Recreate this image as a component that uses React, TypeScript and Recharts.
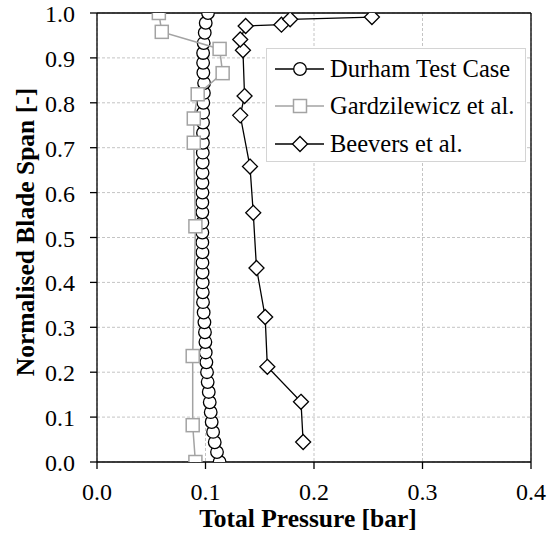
import React from 'react';
import {
  ScatterChart,
  Scatter,
  XAxis,
  YAxis,
  CartesianGrid,
  ReferenceLine,
  Legend,
} from 'recharts';

const durhamY = [
  0, 0.022, 0.044, 0.067, 0.089, 0.111, 0.133, 0.156, 0.178, 0.2, 0.222, 0.244,
  0.267, 0.289, 0.311, 0.333, 0.356, 0.378, 0.4, 0.422, 0.444, 0.467, 0.489,
  0.511, 0.533, 0.556, 0.578, 0.6, 0.622, 0.644, 0.667, 0.689, 0.711, 0.733,
  0.756, 0.778, 0.8, 0.822, 0.844, 0.867, 0.889, 0.911, 0.933, 0.956, 0.978, 1.0,
];
const durhamX = [
  0.113, 0.1106, 0.1085, 0.107, 0.1057, 0.1048, 0.1039, 0.103, 0.102, 0.1014,
  0.1008, 0.1002, 0.0999, 0.0995, 0.099, 0.0983, 0.0977, 0.0975, 0.0974, 0.0973,
  0.0972, 0.0972, 0.0971, 0.0971, 0.0971, 0.0971, 0.0971, 0.0972, 0.0972, 0.0973,
  0.0974, 0.0975, 0.0976, 0.0977, 0.0977, 0.0978, 0.098, 0.0985, 0.0987, 0.098,
  0.0978, 0.0978, 0.0983, 0.0993, 0.1002, 0.1023,
];

const gardY = [0, 0.082, 0.236, 0.525, 0.711, 0.765, 0.819, 0.866, 0.92, 0.958, 1.0];
const gardX = [0.0907, 0.0882, 0.0882, 0.0907, 0.0892, 0.0892, 0.0928, 0.1158, 0.113, 0.0597, 0.057];

const beevY = [0.0445, 0.134, 0.212, 0.323, 0.432, 0.555, 0.658, 0.772, 0.815, 0.917, 0.941, 0.971, 0.974, 0.986, 0.991];
const beevX = [0.19, 0.188, 0.157, 0.155, 0.147, 0.144, 0.141, 0.132, 0.136, 0.1345, 0.132, 0.137, 0.17, 0.178, 0.2534];

const xTicks = [0, 0.1, 0.2, 0.3, 0.4];
const yTicks = [0, 0.1, 0.2, 0.3, 0.4, 0.5, 0.6, 0.7, 0.8, 0.9, 1.0];

const seriesNames = ['Durham Test Case', 'Gardzilewicz et al.', 'Beevers et al.'];

const toPoints = (xs: number[], ys: number[]) => xs.map((x, i) => ({ x, y: ys[i] }));
const durhamData = toPoints(durhamX, durhamY);
const gardData = toPoints(gardX, gardY);
const beevData = toPoints(beevX, beevY);

const GRAY = '#a3a3a3';
const FONT = 'Liberation Serif';

const CircleMark = (p: any) => (
  <circle cx={p.cx} cy={p.cy} r={6.3} fill="#fff" stroke="#000" strokeWidth={1.3} />
);
const SquareMark = (p: any) => (
  <rect x={p.cx - 6.5} y={p.cy - 6.5} width={13} height={13} fill="#fff" stroke={GRAY} strokeWidth={1.5} />
);
const DiamondMark = (p: any) => (
  <path
    d={`M${p.cx},${p.cy - 7.5}L${p.cx + 7.5},${p.cy}L${p.cx},${p.cy + 7.5}L${p.cx - 7.5},${p.cy}Z`}
    fill="#fff"
    stroke="#000"
    strokeWidth={1.3}
  />
);

const legendItems = [
  { name: seriesNames[0], color: '#000', Mark: CircleMark },
  { name: seriesNames[1], color: GRAY, Mark: SquareMark },
  { name: seriesNames[2], color: '#000', Mark: DiamondMark },
];

const LegendBox = () => (
  <div
    style={{
      width: 258,
      height: 111,
      border: '1px solid #d4d4d4',
      background: '#fff',
      fontFamily: FONT,
      fontSize: 24.5,
      color: '#000',
      boxSizing: 'content-box',
      paddingTop: 1,
    }}
  >
    {legendItems.map((it) => (
      <div key={it.name} style={{ display: 'flex', alignItems: 'center', height: 37.5, whiteSpace: 'nowrap' }}>
        <svg width={62} height={20} style={{ flex: 'none' }}>
          <line x1={8} y1={10} x2={57} y2={10} stroke={it.color} strokeWidth={1.5} />
          <it.Mark cx={33} cy={10} />
        </svg>
        <span style={{ marginLeft: 1 }}>{it.name}</span>
      </div>
    ))}
  </div>
);

const XTick = (p: any) => (
  <text x={p.x} y={p.y} dy={17} textAnchor="middle" fontFamily={FONT} fontSize={24} fill="#000">
    {Number(p.payload.value).toFixed(1)}
  </text>
);

const YTick = (p: any) => (
  <text x={p.x} y={p.y} dy={9} textAnchor="end" fontFamily={FONT} fontSize={24} fill="#000">
    {Number(p.payload.value).toFixed(1)}
  </text>
);

const YTitle = () => (
  <text
    x={34}
    y={232}
    transform="rotate(-90, 34, 232)"
    textAnchor="middle"
    fontFamily={FONT}
    fontWeight="bold"
    fontSize={25.5}
    fill="#000"
  >
    Normalised Blade Span [-]
  </text>
);

const XTitle = () => (
  <text x={308} y={527} textAnchor="middle" fontFamily={FONT} fontWeight="bold" fontSize={25.5} fill="#000">
    Total Pressure [bar]
  </text>
);

export default function App() {
  return (
    <div style={{ position: 'absolute', left: 0, top: 0, background: '#fff', fontFamily: FONT }}>
      <ScatterChart width={548} height={540} margin={{ top: 13, right: 17, left: 0, bottom: 0 }}>
        <CartesianGrid stroke="#c4c4c4" strokeDasharray="3 2" strokeWidth={1} />
        <XAxis
          type="number"
          dataKey="x"
          domain={[0, 0.4]}
          ticks={xTicks}
          height={78}
          tickSize={7}
          tickMargin={14}
          axisLine={{ stroke: '#000', strokeWidth: 1.3 }}
          tickLine={{ stroke: '#000', strokeWidth: 1.3 }}
          tick={<XTick />}
          allowDataOverflow
          label={{ content: () => <XTitle /> }}
        />
        <YAxis
          type="number"
          dataKey="y"
          domain={[0, 1]}
          ticks={yTicks}
          width={97}
          tickSize={7}
          tickMargin={15}
          axisLine={{ stroke: '#000', strokeWidth: 1.3 }}
          tickLine={{ stroke: '#000', strokeWidth: 1.3 }}
          tick={<YTick />}
          allowDataOverflow
          label={{ content: () => <YTitle /> }}
        />
        <ReferenceLine y={1} stroke="#000" strokeWidth={1.3} />
        <ReferenceLine x={0.4} stroke="#000" strokeWidth={1.3} />
        <Scatter
          name={seriesNames[0]}
          data={durhamData}
          line={{ stroke: '#000', strokeWidth: 1.3 }}
          lineType="joint"
          shape={CircleMark}
          isAnimationActive={false}
        />
        <Scatter
          name={seriesNames[2]}
          data={beevData}
          line={{ stroke: '#000', strokeWidth: 1.3 }}
          lineType="joint"
          shape={DiamondMark}
          isAnimationActive={false}
        />
        <Scatter
          name={seriesNames[1]}
          data={gardData}
          line={{ stroke: GRAY, strokeWidth: 1.5 }}
          lineType="joint"
          shape={SquareMark}
          isAnimationActive={false}
        />
        <Legend
          layout="vertical"
          align="center"
          verticalAlign="middle"
          content={() => <LegendBox />}
          wrapperStyle={{ position: 'absolute', left: 266, top: 48, width: 260, height: 113 }}
        />
      </ScatterChart>
    </div>
  );
}
